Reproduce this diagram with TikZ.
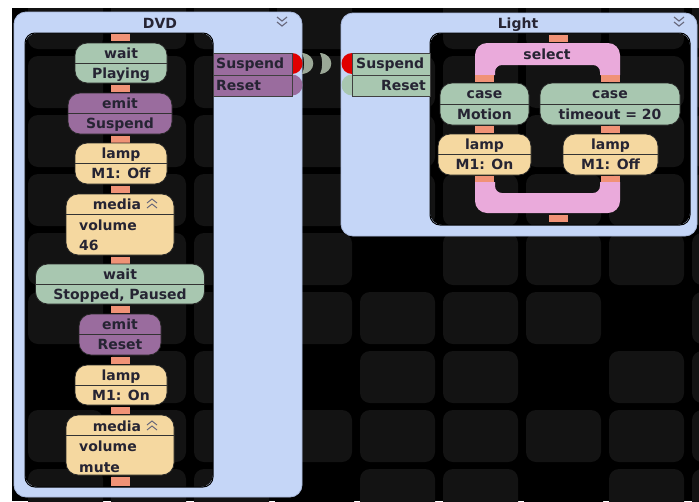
\documentclass[tikz,border=0pt]{standalone}
\usepackage{fontspec}
\setmainfont{DejaVu Sans}
\definecolor{panelblue}{HTML}{C5D6F7}
\definecolor{paneledge}{HTML}{A9B9DC}
\definecolor{pgreen}{HTML}{A8C7B0}
\definecolor{ppurple}{HTML}{9A6C9E}
\definecolor{pyellow}{HTML}{F5D8A0}
\definecolor{ppink}{HTML}{EAAADB}
\definecolor{ptab}{HTML}{F09276}
\definecolor{tilec}{HTML}{131313}
\definecolor{txt}{HTML}{262433}
\definecolor{cresc}{HTML}{9BA897}
\definecolor{chevc}{HTML}{66667A}
\definecolor{pred}{HTML}{E00000}
\newcommand\blkfont{\bfseries\fontsize{14}{16}\selectfont}
\tikzset{
  pill/.style={draw=black!85, line width=0.8pt, rounded corners=12pt, inner sep=0pt},
  tabc/.style={fill=ptab, minimum width=19pt, minimum height=7pt, inner sep=0pt},
  lbl/.style={font=\blkfont, text=txt, inner sep=0pt, text height=10pt, text depth=0pt},
  divl/.style={draw=black!80, line width=1pt},
  portbox/.style={draw=black!75, line width=0.8pt, inner sep=0pt, minimum width=79pt, minimum height=21.5pt, anchor=north west},
  chev/.style={draw=chevc, line width=1.1pt},
  tilestyle/.style={fill=tilec, rounded corners=10pt},
}
% name, cx, top, bottom, width, colour, text1, text2
\newcommand\twoblk[8]{%
  \node[pill, fill=#6, minimum width=#5pt, minimum height={(#4-#3)*1pt}] (#1) at (#2,{(#3+#4)/2}) {};
  \draw[divl] (#1.west) -- (#1.east);
  \node[lbl] (#1-a) at (#2,{#3+(#4-#3)/4}) {#7};
  \node[lbl] (#1-b) at (#2,{#4-(#4-#3)/4}) {#8};
}
% name, cx, top, bottom, width, value text, header y, volume y, value y
\newcommand\mediablk[9]{%
  \node[pill, fill=pyellow, minimum width=#5pt, minimum height={(#4-#3)*1pt}] (#1) at (#2,{(#3+#4)/2}) {};
  \draw[divl] (#1.west |- 0,{#3+20}) -- (#1.east |- 0,{#3+20});
  \node[lbl] (#1-h) at ({#2-3},#7) {media};
  \draw[chev, line width=1pt] ({#2+27},{#7-1}) -- ({#2+32},{#7-5}) -- ({#2+37},{#7-1});
  \draw[chev, line width=1pt] ({#2+27},{#7+4}) -- ({#2+32},{#7}) -- ({#2+37},{#7+4});
  \node[lbl, anchor=west] (#1-v) at ({#2-41},#8) {volume};
  \node[lbl, anchor=west] (#1-x) at ({#2-41},#9) {#6};
}
\begin{document}
\begin{tikzpicture}[x=1pt,y=-1pt]
\useasboundingbox (0,0) rectangle (699,501);
\fill[white] (0,0) rectangle (699,501);
\fill[black] (12,8) rectangle (699,501);
% background tiles
\begin{scope}
  \clip (12,8) rectangle (699,501);
  \foreach \i in {0,...,8} {
    \foreach \j in {0,...,8} {
      \fill[tilestyle] ({28+83*\i},{-3+59*\j}) rectangle ++(75,52);
    }
  }
  \foreach \i/\j in {3/6,3/8,4/4,7/5,6/6,6/8,0/6,4/0} {
    \fill[black, rounded corners=10pt] ({26+83*\i},{-5+59*\j}) rectangle ++(79,56);
  }
\end{scope}
% panels
\fill[panelblue, even odd rule] [rounded corners=12pt] (14,12) rectangle (302,497) (25,33) rectangle (213,487);
\draw[paneledge, line width=0.8pt, rounded corners=12pt] (14,12) rectangle (302,497);
\draw[black, line width=1pt, rounded corners=10pt] (25,33) rectangle (213,487);
\fill[panelblue, even odd rule] [rounded corners=12pt] (341,13) rectangle (697,236) (430,33) rectangle (690,225);
\draw[paneledge, line width=0.8pt, rounded corners=12pt] (341,13) rectangle (697,236);
\draw[black, line width=1pt, rounded corners=10pt] (430,33) rectangle (690,225);
% titles
\node[lbl] (dvdtitle) at (160,23) {DVD};
\node[lbl] (lighttitle) at (518,23) {Light};
\draw[chev] (277,17) -- (282,21) -- (287,17);
\draw[chev] (277,22) -- (282,26) -- (287,22);
\draw[chev] (674,17) -- (679,21) -- (684,17);
\draw[chev] (674,22) -- (679,26) -- (684,22);
% DVD sequence
\node[tabc] (t1) at (120,37.5) {};
\twoblk{w1}{121}{43}{83}{92}{pgreen}{wait}{Playing}
\node[tabc] (t2) at (120,88.5) {};
\twoblk{e1}{120}{93}{134}{104}{ppurple}{emit}{Suspend}
\node[tabc] (t3) at (120,139) {};
\twoblk{l1}{121}{143}{184}{92}{pyellow}{lamp}{M1: Off}
\node[tabc] (t4) at (120,189.5) {};
\mediablk{m1}{120}{194}{255}{108}{46}{204}{225}{245}
\node[tabc] (t5) at (120,260) {};
\twoblk{w2}{120}{264}{304}{169}{pgreen}{wait}{Stopped, Paused}
\node[tabc] (t6) at (120,309) {};
\twoblk{e2}{120}{314}{355}{82}{ppurple}{emit}{Reset}
\node[tabc] (t7) at (120,360) {};
\twoblk{l2}{121}{365}{405}{92}{pyellow}{lamp}{M1: On}
\node[tabc] (t8) at (120,410.5) {};
\mediablk{m2}{120}{415}{475}{108}{mute}{426}{446}{467}
\node[tabc, minimum height=9pt] (t9) at (120,481) {};
% DVD ports
\node[portbox, fill=ppurple] (dsus) at (213,53) {};
\node[portbox, fill=ppurple] (dres) at (213,74.5) {};
\node[lbl, anchor=west] (dsus-t) at (216,63.5) {Suspend};
\node[lbl, anchor=west] (dres-t) at (216,85) {Reset};
\fill[pred] (292,53) arc[start angle=-90, end angle=90, radius=10.5] -- cycle;
\fill[ppurple] (292,74.5) arc[start angle=-90, end angle=90, radius=10.5] -- cycle;
\draw[black!75, line width=0.8pt] (292,53) -- (292,96);
% wire crescents
\fill[cresc] (302,53) .. controls (317,54) and (317,73) .. (302,74) .. controls (305,68) and (305,59) .. (302,53) -- cycle;
\fill[cresc] (320,53) .. controls (335,54) and (335,73) .. (320,74) .. controls (323,68) and (323,59) .. (320,53) -- cycle;
% Light ports
\node[portbox, fill=pgreen, minimum width=78pt] (lsus) at (352,53) {};
\node[portbox, fill=pgreen, minimum width=78pt] (lres) at (352,74.5) {};
\node[lbl, anchor=west] (lsus-t) at (356,63.5) {Suspend};
\node[lbl, anchor=east] (lres-t) at (426,85) {Reset};
\fill[pred] (352,53) arc[start angle=270, end angle=90, radius=10.5] -- cycle;
\fill[pgreen] (352,74.5) arc[start angle=270, end angle=90, radius=10.5] -- cycle;
\draw[black!75, line width=0.8pt] (352,53) -- (352,96);
% select
\node[tabc] (st) at (558,38) {};
\fill[ppink] (475,75) -- (475,55) arc[start angle=180, end angle=270, radius=12] -- (608,43) arc[start angle=270, end angle=360, radius=12] -- (620,75) -- (600,75) -- (600,72) arc[start angle=0, end angle=-90, radius=7] -- (502,65) arc[start angle=270, end angle=180, radius=7] -- (495,75) -- cycle;
\node[lbl] (sel) at (547,54) {select};
\node[tabc] (sa) at (484,78) {};
\node[tabc] (sb) at (610,78) {};
\twoblk{c1}{484.5}{83}{125}{89}{pgreen}{case}{Motion}
\twoblk{c2}{610}{83}{125}{140}{pgreen}{case}{timeout = 20}
\node[tabc] (sc) at (484,129.5) {};
\node[tabc] (sd) at (610,129.5) {};
\twoblk{l3}{484.5}{134}{175}{93}{pyellow}{lamp}{M1: On}
\twoblk{l4}{610.5}{134}{175}{95}{pyellow}{lamp}{M1: Off}
\node[tabc] (se) at (484,179) {};
\node[tabc] (sf) at (610,179) {};
\fill[ppink] (475,182) -- (475,201) arc[start angle=180, end angle=90, radius=12] -- (608,213) arc[start angle=90, end angle=0, radius=12] -- (620,182) -- (600,182) -- (600,186) arc[start angle=0, end angle=90, radius=7] -- (502,193) arc[start angle=90, end angle=180, radius=7] -- (495,182) -- cycle;
\node[tabc] (sg) at (558,218) {};
\end{tikzpicture}
\end{document}
